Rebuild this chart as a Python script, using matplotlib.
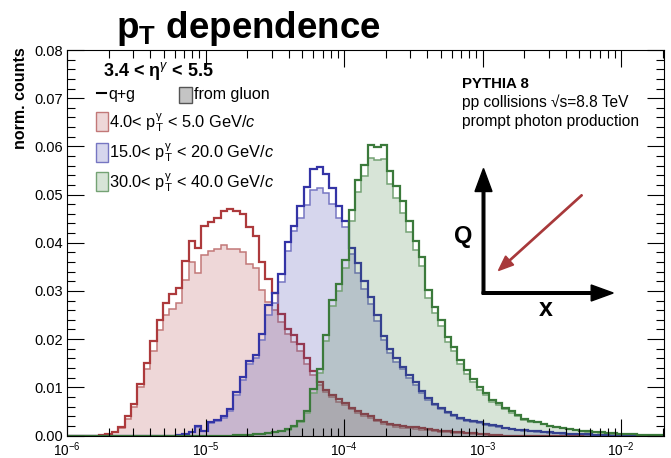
import numpy as np
import matplotlib
matplotlib.use("Agg")
import matplotlib.pyplot as plt
from matplotlib.patches import Rectangle
from matplotlib.ticker import MultipleLocator, FormatStrFormatter, LogLocator

plt.rcParams['font.family'] = ['Liberation Sans', 'DejaVu Sans']
plt.rcParams['mathtext.fontset'] = 'custom'
plt.rcParams['mathtext.rm'] = 'Liberation Sans'
plt.rcParams['mathtext.it'] = 'Liberation Sans:italic'
plt.rcParams['mathtext.bf'] = 'Liberation Sans:bold'

# binning: log10(x) from -6 in steps of 0.0462
NBINS = 93
LOG_START = -6.0
LOG_STEP = 0.0462

# pT 4-5 GeV/c, histograms start at bin 5
low_first = 5
low_all = [0.0002, 0.0004, 0.0008, 0.0017, 0.0040, 0.0065, 0.0107, 0.0150, 0.0196, 0.0239,
           0.0276, 0.0293, 0.0306, 0.0362, 0.0404, 0.0390, 0.0434, 0.0443, 0.0452, 0.0465,
           0.0471, 0.0466, 0.0459, 0.0432, 0.0414, 0.0360, 0.0325, 0.0296, 0.0252, 0.0222,
           0.0208, 0.0189, 0.0160, 0.0133, 0.0112, 0.0095, 0.0085, 0.0075, 0.0068, 0.0058,
           0.0050, 0.0045, 0.0040, 0.0033, 0.0027, 0.0024, 0.0021, 0.0019, 0.0018, 0.0017,
           0.0015, 0.0013, 0.0011, 0.0010, 0.0009, 0.0008, 0.0007, 0.0006, 0.0005, 0.0004,
           0.0003, 0.0002, 0.0001]
low_gluon = [0.0002, 0.0003, 0.0007, 0.0015, 0.0035, 0.0060, 0.0100, 0.0138, 0.0175, 0.0218,
             0.0250, 0.0263, 0.0274, 0.0322, 0.0360, 0.0337, 0.0375, 0.0383, 0.0388, 0.0396,
             0.0387, 0.0386, 0.0380, 0.0356, 0.0347, 0.0301, 0.0278, 0.0260, 0.0235, 0.0210,
             0.0195, 0.0175, 0.0148, 0.0125, 0.0105, 0.0090, 0.0080, 0.0070, 0.0063, 0.0054,
             0.0046, 0.0041, 0.0036, 0.0030, 0.0024, 0.0021, 0.0018, 0.0016, 0.0015, 0.0014,
             0.0012, 0.0011, 0.0009, 0.0008, 0.0007, 0.0006, 0.0005, 0.0005, 0.0004, 0.0003,
             0.0002, 0.0002, 0.0001]

# pT 15-20 GeV/c, from bin 17
mid_first = 17
mid_all = [0.0002, 0.0004, 0.0008, 0.0020, 0.0010, 0.0027, 0.0033, 0.0040, 0.0054, 0.0091,
           0.0122, 0.0155, 0.0168, 0.0210, 0.0270, 0.0295, 0.0335, 0.0402, 0.0435, 0.0476,
           0.0516, 0.0553, 0.0557, 0.0543, 0.0514, 0.0476, 0.0445, 0.0390, 0.0358, 0.0320,
           0.0288, 0.0250, 0.0206, 0.0179, 0.0160, 0.0143, 0.0125, 0.0110, 0.0093, 0.0078,
           0.0066, 0.0057, 0.0049, 0.0043, 0.0036, 0.0032, 0.0030, 0.0027, 0.0024, 0.0021,
           0.0019, 0.0016, 0.0014, 0.0012, 0.0011, 0.0010, 0.0009, 0.0008, 0.0007, 0.0006,
           0.0005, 0.0004, 0.0004, 0.0003, 0.0003, 0.0002, 0.0002, 0.0001, 0.0001]
mid_gluon = [0.0002, 0.0003, 0.0007, 0.0018, 0.0009, 0.0025, 0.0031, 0.0037, 0.0050, 0.0085,
             0.0115, 0.0148, 0.0160, 0.0198, 0.0250, 0.0275, 0.0318, 0.0383, 0.0425, 0.0452,
             0.0478, 0.0510, 0.0513, 0.0503, 0.0480, 0.0452, 0.0432, 0.0376, 0.0338, 0.0305,
             0.0272, 0.0238, 0.0198, 0.0172, 0.0153, 0.0137, 0.0120, 0.0105, 0.0089, 0.0074,
             0.0063, 0.0054, 0.0046, 0.0040, 0.0034, 0.0030, 0.0028, 0.0025, 0.0022, 0.0019,
             0.0017, 0.0015, 0.0013, 0.0011, 0.0010, 0.0009, 0.0008, 0.0007, 0.0006, 0.0005,
             0.0004, 0.0004, 0.0003, 0.0003, 0.0002, 0.0002, 0.0001, 0.0001, 0.0001]

# pT 30-40 GeV/c, from bin 26
high_first = 26
high_all = [0.0001, 0.0002, 0.0002, 0.0003, 0.0004, 0.0006, 0.0008, 0.0010, 0.0013, 0.0020,
            0.0030, 0.0050, 0.0097, 0.0138, 0.0208, 0.0282, 0.0315, 0.0365, 0.0469, 0.0530,
            0.0562, 0.0603, 0.0598, 0.0603, 0.0548, 0.0517, 0.0487, 0.0445, 0.0404, 0.0370,
            0.0301, 0.0267, 0.0239, 0.0205, 0.0184, 0.0157, 0.0135, 0.0118, 0.0100, 0.0088,
            0.0074, 0.0067, 0.0057, 0.0050, 0.0043, 0.0035, 0.0031, 0.0028, 0.0024, 0.0020,
            0.0018, 0.0016, 0.0014, 0.0012, 0.0010, 0.0009, 0.0008, 0.0007, 0.0006, 0.0005,
            0.0004, 0.0003, 0.0003, 0.0002, 0.0002, 0.0001, 0.0001]
high_gluon = [0.0001, 0.0002, 0.0002, 0.0003, 0.0004, 0.0005, 0.0007, 0.0009, 0.0012, 0.0018,
              0.0028, 0.0046, 0.0088, 0.0130, 0.0197, 0.0268, 0.0300, 0.0348, 0.0445, 0.0505,
              0.0538, 0.0575, 0.0572, 0.0574, 0.0522, 0.0493, 0.0462, 0.0422, 0.0384, 0.0351,
              0.0286, 0.0254, 0.0228, 0.0195, 0.0175, 0.0149, 0.0128, 0.0112, 0.0095, 0.0084,
              0.0070, 0.0064, 0.0054, 0.0047, 0.0041, 0.0033, 0.0029, 0.0027, 0.0023, 0.0019,
              0.0017, 0.0015, 0.0013, 0.0011, 0.0009, 0.0008, 0.0007, 0.0006, 0.0005, 0.0004,
              0.0004, 0.0003, 0.0003, 0.0002, 0.0002, 0.0001, 0.0001]

labels = [r"4.0< $\mathregular{p_{T}^{\gamma}}$ < 5.0 GeV/$\mathit{c}$",
          r"15.0< $\mathregular{p_{T}^{\gamma}}$ < 20.0 GeV/$\mathit{c}$",
          r"30.0< $\mathregular{p_{T}^{\gamma}}$ < 40.0 GeV/$\mathit{c}$"]
line_colors = ['#ad3a3c', '#3434a6', '#3b7a3b']
gluon_colors = ['#c27878', '#7676c2', '#74a274']


def full(first, vals):
    arr = np.zeros(NBINS)
    arr[first:first + len(vals)] = vals
    return arr


edges = 10 ** (LOG_START + LOG_STEP * np.arange(NBINS + 1))
series = [(full(low_first, low_all), full(low_first, low_gluon)),
          (full(mid_first, mid_all), full(mid_first, mid_gluon)),
          (full(high_first, high_all), full(high_first, high_gluon))]

W, H = 671, 458
fig = plt.figure(figsize=(W / 100, H / 100), dpi=100)
ax = fig.add_axes([67 / W, 1 - 435.5 / H, (664 - 67) / W, (435.5 - 50) / H])

for (tot, glu), lc, gc in zip(series, line_colors, gluon_colors):
    ax.stairs(glu, edges, fill=True, color=lc, alpha=0.2, lw=0)
    ax.stairs(glu, edges, color=gc, lw=1.1)
    ax.stairs(tot, edges, color=lc, lw=1.6)

ax.set_xscale('log')
ax.set_xlim(1e-6, 2.04e-2)
ax.set_ylim(0, 0.08)
ax.yaxis.set_major_locator(MultipleLocator(0.01))
ax.yaxis.set_minor_locator(MultipleLocator(0.002))
ax.yaxis.set_major_formatter(FormatStrFormatter('%.2f'))
ax.xaxis.set_major_locator(LogLocator(base=10, numticks=10))
ax.xaxis.set_minor_locator(LogLocator(base=10, subs=np.arange(2, 10), numticks=10))
ax.tick_params(which='both', direction='in', top=True, right=True, width=0.8)
ax.tick_params(which='major', length=12)
ax.tick_params(which='minor', length=6)
ax.tick_params(axis='y', pad=3, labelsize=10.5)
ax.tick_params(axis='x', pad=3.5, labelsize=9.8)
for sp in ax.spines.values():
    sp.set_linewidth(0.8)

# overlay in pixel coordinates for labels, legend and the Q-x sketch
ov = fig.add_axes([0, 0, 1, 1], zorder=5)
ov.set_xlim(0, W)
ov.set_ylim(H, 0)
ov.axis('off')

ov.text(116, 38, r"$\mathbf{p}_{\mathbf{T}}$ dependence", fontsize=26.5, fontweight='bold',
        va='baseline', ha='left')
ov.text(21, 47, "norm. counts", rotation=90, fontsize=11.5, fontweight='bold',
        ha='center', va='top')

ov.text(103, 76, r"3.4 < $\mathbf{\eta}^{\gamma}$ < 5.5", fontsize=13, fontweight='bold',
        va='baseline')
ov.plot([97, 106], [92.5, 92.5], color='black', lw=1.5)
ov.text(108, 99, "q+g", fontsize=11.5, va='baseline')
ov.add_patch(Rectangle((179, 87), 13, 16, facecolor='#c4c4c4', edgecolor='#555555', lw=1))
ov.text(194, 99, "from gluon", fontsize=11.5, va='baseline')

box_tops = [112, 143, 172]
text_base = [127, 158, 188]
for lab, lc, gc, bt, tb in zip(labels, line_colors, gluon_colors, box_tops, text_base):
    ov.add_patch(Rectangle((96, bt), 12, 19, facecolor=lc, alpha=0.2, lw=0))
    ov.add_patch(Rectangle((96, bt), 12, 19, fill=False, edgecolor=gc, lw=1))
    ov.text(109, tb, lab, fontsize=11.8, va='baseline')

ov.text(462, 88, "PYTHIA 8", fontsize=10.8, fontweight='bold', va='baseline')
ov.text(462, 107, "pp collisions \u221as=8.8 TeV", fontsize=11.2, va='baseline')
ov.text(462, 126, "prompt photon production", fontsize=11.2, va='baseline')

# Q-x sketch
ov.arrow(483.5, 294, 0, -125.5, width=2.6, head_width=17, head_length=23,
         length_includes_head=True, color='black')
ov.arrow(482.2, 293, 131, 0, width=2.6, head_width=16, head_length=22,
         length_includes_head=True, color='black')
ov.arrow(582, 195, -83.5, 75.5, width=1.3, head_width=12, head_length=15,
         length_includes_head=True, color='#a8393b')
ov.text(463, 237, "Q", fontsize=17, fontweight='bold', ha='center', va='center')
ov.text(546, 309, "x", fontsize=18, fontweight='bold', ha='center', va='center')

fig.savefig('out.png', dpi=100)
